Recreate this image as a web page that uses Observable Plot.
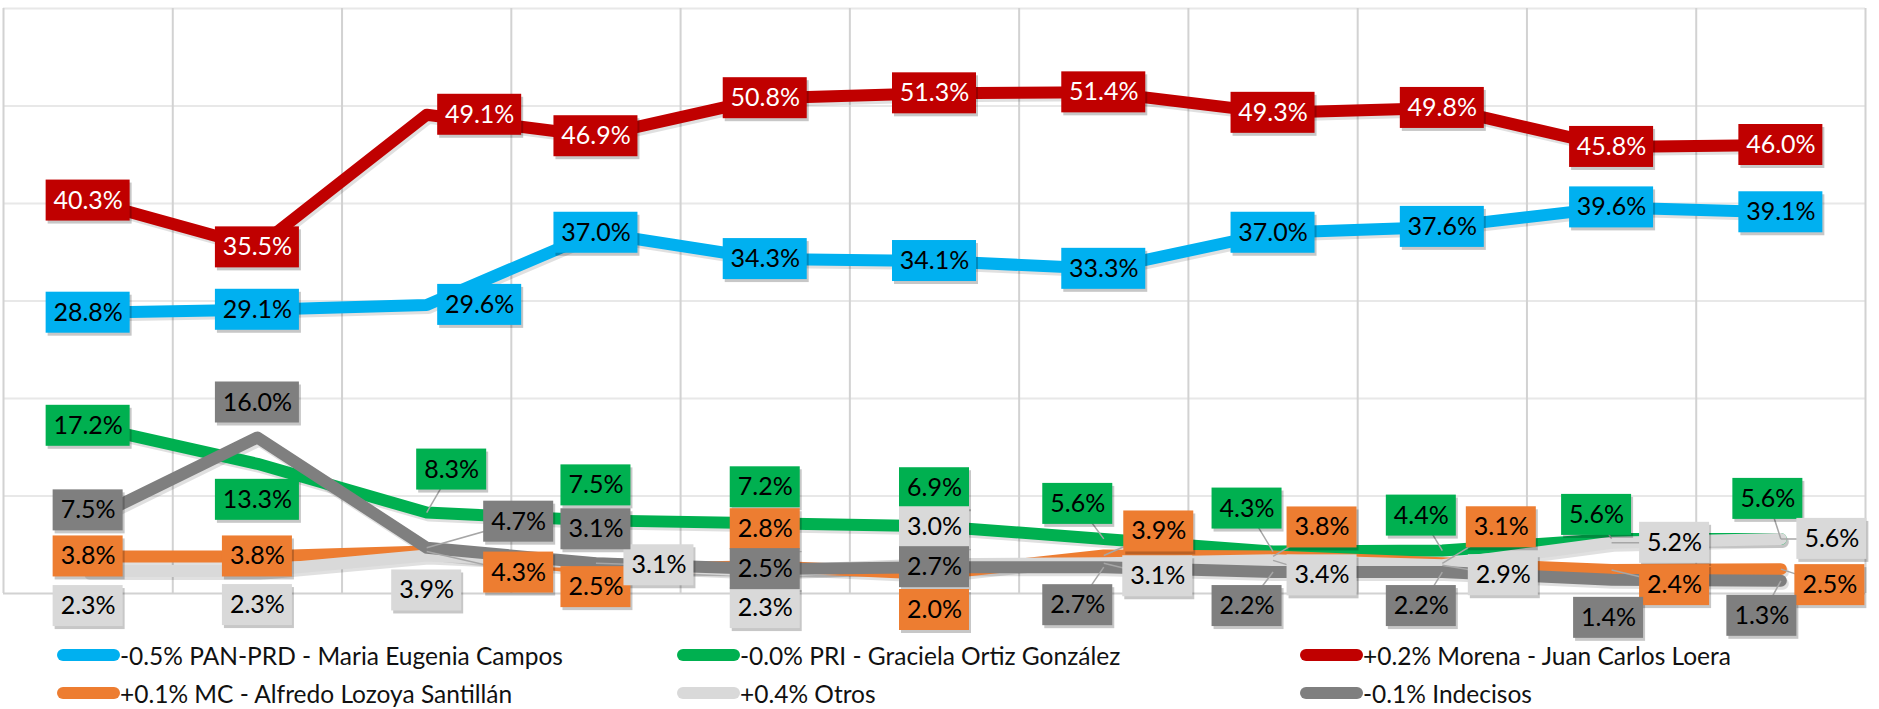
<!DOCTYPE html>
<html><head><meta charset="utf-8">
<script src="https://cdn.jsdelivr.net/npm/d3@7"></script>
<script src="https://cdn.jsdelivr.net/npm/@observablehq/plot@0.6"></script>
<style>
body{margin:0;background:#fff;font-family:Lato,sans-serif;}
#chart svg{overflow:visible;display:block}
.legend{position:relative;height:73px;font-size:24.5px;color:#111}
.item{position:absolute;display:flex;align-items:center;height:38px;white-space:nowrap}
.sw{width:63px;height:12px;border-radius:6px}
</style></head><body>
<div id="chart"></div><div class="legend" id="legend"></div>
<script>
// ---- data ----
const waves = ["1","2","3","4","5","6","7","8","9","10","11"];
const seriesNames = ["PAN-PRD - Maria Eugenia Campos","PRI - Graciela Ortiz González","Morena - Juan Carlos Loera","MC - Alfredo Lozoya Santillán","Otros","Indecisos"];
const seriesChange = ["-0.5%","-0.0%","+0.2%","+0.1%","+0.4%","-0.1%"];
const panPrd    = [28.8, 29.1, 29.6, 37.0, 34.3, 34.1, 33.3, 37.0, 37.6, 39.6, 39.1];
const pri       = [17.2, 13.3, 8.3, 7.5, 7.2, 6.9, 5.6, 4.3, 4.4, 5.6, 5.6];
const morena    = [40.3, 35.5, 49.1, 46.9, 50.8, 51.3, 51.4, 49.3, 49.8, 45.8, 46.0];
const mc        = [3.8, 3.8, 4.3, 2.5, 2.8, 2.0, 3.9, 3.8, 3.1, 2.4, 2.5];
const otros     = [2.3, 2.3, 3.9, 3.1, 2.3, 3.0, 3.1, 3.4, 2.9, 5.2, 5.6];
const indecisos = [7.5, 16.0, 4.7, 3.1, 2.5, 2.7, 2.7, 2.2, 2.2, 1.4, 1.3];
const seriesValues = [panPrd, pri, morena, mc, otros, indecisos];

// ---- styles ----
const colors = ["#00B0F0","#00B050","#C00000","#ED7D31","#D9D9D9","#7F7F7F"];
const textColors = ["#000","#000","#fff","#000","#000","#000"];
// label nudges in pixels [dx, dy] (manual placement as in the original)
const nudges = [
  [[0,0],[0,0],[53,0],[0,0],[0,0],[0,0],[0,0],[0,0],[0,0],[0,0],[0,0]],
  [[0,0],[0,36],[25,-43],[0,-35],[0,-36],[0,-38],[-26,-35],[-26,-43],[-21,-35],[-15,-24],[-13,-40]],
  [[0,0],[0,0],[53,0],[0,0],[0,0],[0,0],[0,0],[0,0],[0,0],[0,0],[0,0]],
  [[0,0],[0,0],[92,21],[0,18],[0,-37],[0,36],[55,-24],[49,-29],[59,-36],[63,15],[49,16]],
  [[0,35],[0,34],[0,35],[63,2],[0,37],[0,-37],[54,13],[49,15],[61,10],[63,0],[51,0]],
  [[0,-10],[0,-35],[92,-26],[0,-34],[0,0],[0,0],[-26,38],[-26,34],[-21,34],[-3,38],[-19,35]]
];

const W = 1879, H = 636, mt = 8, mr = 14, mb = 43, ml = 3;
const bandPx = (W - ml - mr) / waves.length;
const unitPx = (H - mt - mb) / 60;

const points = [];
const labels = [];
seriesValues.forEach((vals, s) => {
  vals.forEach((v, i) => {
    points.push({s, i, v, col: colors[s]});
    const [dx, dy] = nudges[s][i];
    const text = v.toFixed(1) + "%";
    const hw = (text.length >= 5 ? 42 : 35) / bandPx;
    const hh = 20.5 / unitPx;
    labels.push({s, i, v, text, col: colors[s], tcol: textColors[s],
      lx: i + dx / bandPx, ly: v - dy / unitPx, hw, hh, dx, dy});
  });
});
const leaders = labels.filter(d => d.s !== 0 && d.s !== 2 && Math.abs(d.dx) > 10);
const vgrid = d3.range(-0.5, waves.length, 1);
const hgrid = d3.range(10, 61, 10);

const chart = Plot.plot({
  width: W, height: H,
  marginTop: mt, marginRight: mr, marginBottom: mb, marginLeft: ml,
  x: {type: "linear", domain: [-0.5, waves.length - 0.5], axis: null},
  y: {domain: [0, 60], axis: null},
  color: {type: "identity"},
  marks: [
    Plot.ruleY(hgrid, {stroke: "#e8e8e8", strokeWidth: 2}),
    Plot.ruleX(vgrid, {stroke: "#d2d2d2", strokeWidth: 2}),
    Plot.ruleY([0], {stroke: "#d2d2d2", strokeWidth: 2}),
    Plot.line(points, {x: "i", y: "v", z: "s", stroke: "#000", strokeOpacity: 0.12, strokeWidth: 12,
      strokeLinejoin: "round", dx: 2, dy: 3}),
    Plot.line(points, {x: "i", y: "v", z: "s", stroke: d => d.col, strokeWidth: 12,
      strokeLinejoin: "round"}),
    Plot.link(leaders, {x1: "i", y1: "v", x2: "lx", y2: "ly", stroke: "#a6a6a6", strokeWidth: 1.5}),
    Plot.rect(labels, {x1: d => d.lx - d.hw, x2: d => d.lx + d.hw, y1: d => d.ly - d.hh, y2: d => d.ly + d.hh,
      fill: "#000", fillOpacity: 0.22, dx: 2, dy: 3}),
    Plot.rect(labels, {x1: d => d.lx - d.hw, x2: d => d.lx + d.hw, y1: d => d.ly - d.hh, y2: d => d.ly + d.hh,
      fill: d => d.col}),
    Plot.text(labels, {x: "lx", y: "ly", text: "text", fill: d => d.tcol, fontSize: 25, fontFamily: "Lato"})
  ]
});
document.getElementById("chart").appendChild(chart);

// ---- legend ----
const legend = document.getElementById("legend");
const colX = [57, 677, 1300];
seriesNames.forEach((name, s) => {
  const it = document.createElement("div");
  it.className = "item";
  it.style.left = colX[s % 3] + "px";
  it.style.top = (Math.floor(s / 3) * 38) + "px";
  const sw = document.createElement("span");
  sw.className = "sw"; sw.style.background = colors[s];
  const tx = document.createElement("span");
  tx.textContent = seriesChange[s] + " " + name;
  it.appendChild(sw); it.appendChild(tx);
  legend.appendChild(it);
});
</script>
</body></html>
